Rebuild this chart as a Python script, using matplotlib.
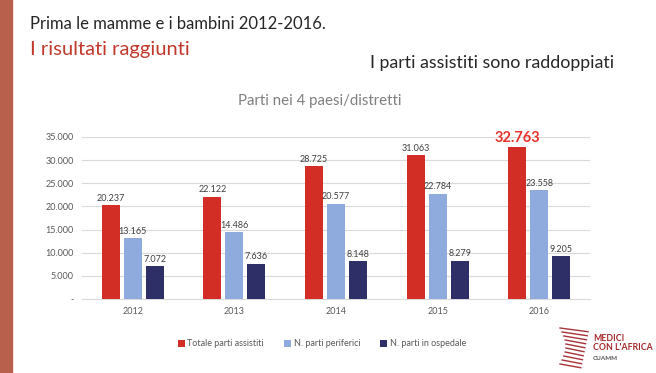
import matplotlib.pyplot as plt
import numpy as np
from matplotlib.patches import Rectangle

plt.rcParams['font.family'] = ['Lato', 'DejaVu Sans']

# Data
years = ["2012", "2013", "2014", "2015", "2016"]
totale = [20237, 22122, 28725, 31063, 32763]
periferici = [13165, 14486, 20577, 22784, 23558]
ospedale = [7072, 7636, 8148, 8279, 9205]
series_names = ["Totale parti assistiti", "N. parti periferici", "N. parti in ospedale"]
colors = ["#D22E26", "#8FAADC", "#2E2F66"]
yticks = [0, 5000, 10000, 15000, 20000, 25000, 30000, 35000]


def fmt(v):
    return f"{v:,}".replace(",", ".")


fig = plt.figure(figsize=(6.56, 3.73), dpi=100)
fig.patch.set_facecolor("white")

# left stripe
fig.add_artist(Rectangle((0, 0), 12 / 656, 1, transform=fig.transFigure,
                         color="#B9604C", zorder=0))

# header texts
fig.text(30 / 656, 1 - 24 / 373, "Prima le mamme e i bambini 2012-2016.",
         fontsize=12, color="#262626", va="center", ha="left")
fig.text(30 / 656, 1 - 50 / 373, "I risultati raggiunti",
         fontsize=14.5, color="#C0392B", va="center", ha="left")
fig.text(370 / 656, 1 - 63 / 373, "I parti assistiti sono raddoppiati",
         fontsize=12.8, color="#262626", va="center", ha="left")
fig.text(320 / 656, 1 - 101 / 373, "Parti nei 4 paesi/distretti",
         fontsize=10.8, color="#7F7F7F", va="center", ha="center")

ax = fig.add_axes([82 / 656, 1 - 299 / 373, 508 / 656, 162 / 373])
x = np.arange(len(years))
w = 0.177
step = 0.217
all_series = [totale, periferici, ospedale]
for i, (vals, name, c) in enumerate(zip(all_series, series_names, colors)):
    pos = x + (i - 1) * step
    ax.bar(pos, vals, width=w, color=c, label=name, zorder=3)
    for j, (p, v) in enumerate(zip(pos, vals)):
        if i == 0 and j == len(years) - 1:
            ax.text(p, v + 500, fmt(v), ha="center", va="bottom",
                    fontsize=10.5, fontweight="bold", color="#E8322A")
        else:
            ax.text(p, v + 500, fmt(v), ha="center", va="bottom",
                    fontsize=6.5, color="#404040")

ax.set_xlim(-0.5, len(years) - 0.5)
ax.set_ylim(0, 35000)
ax.set_yticks(yticks)
ax.set_yticklabels(["-"] + [fmt(t) for t in yticks[1:]], fontsize=6.5, color="#595959")
ax.set_xticks(x)
ax.set_xticklabels(years, fontsize=6.5, color="#595959")
ax.tick_params(length=0, pad=6)
ax.grid(axis="y", color="#D9D9D9", linewidth=0.8, zorder=0)
for s in ["top", "right", "left"]:
    ax.spines[s].set_visible(False)
ax.spines["bottom"].set_color("#D9D9D9")

fig.legend(loc="center", bbox_to_anchor=(322 / 656, 1 - 344 / 373), ncol=3,
           frameon=False, fontsize=6.5, handlelength=0.8, handleheight=0.8,
           handletextpad=0.3, columnspacing=2.2, labelcolor="#595959")

# logo
fig.text(593 / 656, 1 - 343 / 373, "MEDICI\nCON L'AFRICA", fontsize=6.3,
         fontweight="bold", color="#A52A2A", va="center", ha="left",
         linespacing=0.95)
fig.text(593 / 656, 1 - 358 / 373, "CUAMM", fontsize=4.5,
         fontweight="bold", color="#555555", va="center", ha="left")
for k in range(10):
    yy = 1 - (328 + k * 4) / 373
    x0 = 560 + 6 * np.sin(k / 9 * np.pi)
    fig.add_artist(plt.Line2D([x0 / 656, (588 - k * 0.8) / 656],
                              [yy, yy - 0.01], transform=fig.transFigure,
                              color="#A8333A", linewidth=1.0))

fig.savefig("out.png", dpi=100)
